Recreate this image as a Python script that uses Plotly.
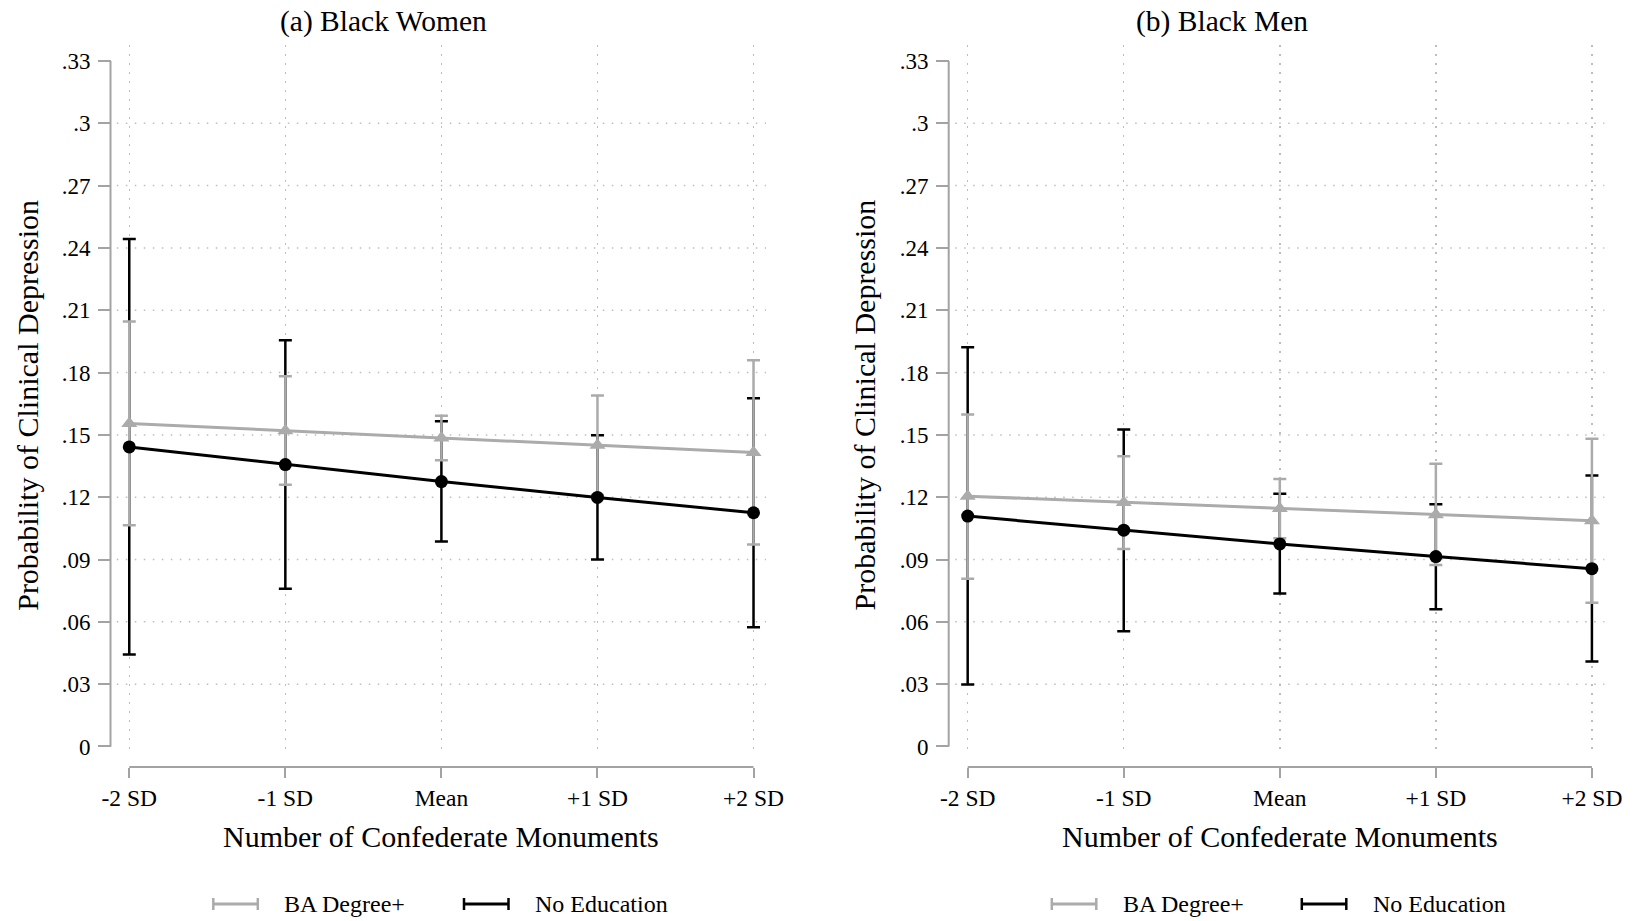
import plotly.graph_objects as go

W, H = 1635, 921

categories = ["-2 SD", "-1 SD", "Mean", "+1 SD", "+2 SD"]

# Panel (a) Black Women
women_ba = [0.1555, 0.1520, 0.1485, 0.1450, 0.1415]
women_ba_hi = [0.2046, 0.1782, 0.1592, 0.1689, 0.1859]
women_ba_lo = [0.1065, 0.1260, 0.1378, 0.1211, 0.0972]
women_none = [0.1442, 0.1357, 0.1275, 0.1199, 0.1125]
women_none_hi = [0.2443, 0.1956, 0.1566, 0.1498, 0.1676]
women_none_lo = [0.0443, 0.0759, 0.0987, 0.0900, 0.0574]

# Panel (b) Black Men
men_ba = [0.1205, 0.1175, 0.1145, 0.1116, 0.1087]
men_ba_hi = [0.1598, 0.1397, 0.1288, 0.1361, 0.1481]
men_ba_lo = [0.0807, 0.0951, 0.1002, 0.0874, 0.0692]
men_none = [0.1109, 0.1041, 0.0975, 0.0914, 0.0856]
men_none_hi = [0.1922, 0.1526, 0.1216, 0.1166, 0.1304]
men_none_lo = [0.0298, 0.0555, 0.0736, 0.0661, 0.0409]

y_tickvals = [0, 0.03, 0.06, 0.09, 0.12, 0.15, 0.18, 0.21, 0.24, 0.27, 0.30, 0.33]
y_ticktext = ["0", ".03", ".06", ".09", ".12", ".15", ".18", ".21", ".24", ".27", ".3", ".33"]
y_gridvals = [0.03, 0.06, 0.09, 0.12, 0.15, 0.18, 0.21, 0.24, 0.27, 0.30]

titles = ["(a) Black Women", "(b) Black Men"]
xtitle = "Number of Confederate Monuments"
ytitle = "Probability of Clinical Depression"
series_names = ["BA Degree+", "No Education"]

GREY = "#ababab"
BLACK = "#000000"
AXGREY = "#a3a3a3"
GRIDC = "#bdbdbd"
FONT = "Liberation Serif"

def px(p):
    return p / W

def py(p):
    return 1 - p / H

fig = go.Figure()

panels = [
    dict(xa="x", ya="y", ba=women_ba, bahi=women_ba_hi, balo=women_ba_lo,
         no=women_none, nohi=women_none_hi, nolo=women_none_lo,
         left=116.8, yaxis_x=110.5, title_x=383.4, xt_x=441.3, yt_x=26.8,
         leg=[213.3, 282.0, 464.0, 533.0]),
    dict(xa="x2", ya="y2", ba=men_ba, bahi=men_ba_hi, balo=men_ba_lo,
         no=men_none, nohi=men_none_hi, nolo=men_none_lo,
         left=955.2, yaxis_x=948.7, title_x=1222.0, xt_x=1279.7, yt_x=864.4,
         leg=[1051.8, 1120.7, 1301.8, 1370.7]),
]

shapes = []
annotations = []
xr = [-0.08, 4.08]
yr = [-0.0046, 0.3377]
plot_w = 649.2
top, bottom = 45.0, 756.0
xaxis_y = 767.0

for i, p in enumerate(panels):
    # black CI
    fig.add_trace(go.Scatter(
        x=categories, y=p["no"], mode="markers", xaxis=p["xa"], yaxis=p["ya"],
        marker=dict(size=1, opacity=0, color=BLACK), showlegend=False, hoverinfo="skip",
        error_y=dict(type="data", symmetric=False,
                     array=[h - v for h, v in zip(p["nohi"], p["no"])],
                     arrayminus=[v - l for v, l in zip(p["no"], p["nolo"])],
                     color=BLACK, thickness=2.5, width=6.5)))
    # grey CI
    fig.add_trace(go.Scatter(
        x=categories, y=p["ba"], mode="markers", xaxis=p["xa"], yaxis=p["ya"],
        marker=dict(size=1, opacity=0, color=GREY), showlegend=False, hoverinfo="skip",
        error_y=dict(type="data", symmetric=False,
                     array=[h - v for h, v in zip(p["bahi"], p["ba"])],
                     arrayminus=[v - l for v, l in zip(p["ba"], p["balo"])],
                     color=GREY, thickness=2.5, width=6.5)))
    # grey line
    fig.add_trace(go.Scatter(
        x=categories, y=p["ba"], mode="lines+markers", xaxis=p["xa"], yaxis=p["ya"],
        name=series_names[0], showlegend=False,
        line=dict(color=GREY, width=3),
        marker=dict(symbol="triangle-up", size=14, color=GREY)))
    # black line
    fig.add_trace(go.Scatter(
        x=categories, y=p["no"], mode="lines+markers", xaxis=p["xa"], yaxis=p["ya"],
        name=series_names[1], showlegend=False,
        line=dict(color=BLACK, width=3),
        marker=dict(symbol="circle", size=13, color=BLACK)))

    sfx = "" if i == 0 else "2"
    # axis lines (Stata style: only across the tick range)
    shapes.append(dict(type="line", xref="paper", yref="y" + sfx,
                       x0=px(p["yaxis_x"]), x1=px(p["yaxis_x"]), y0=0, y1=0.33,
                       line=dict(color=AXGREY, width=2)))
    shapes.append(dict(type="line", xref="x" + sfx, yref="paper",
                       x0=categories[0], x1=categories[-1], y0=py(xaxis_y), y1=py(xaxis_y),
                       line=dict(color=AXGREY, width=2)))
    # horizontal grid
    for g in y_gridvals:
        shapes.append(dict(type="line", xref="x" + sfx + " domain", yref="y" + sfx,
                           x0=0, x1=1, y0=g, y1=g, layer="below",
                           line=dict(color=GRIDC, width=1.5, dash="1.5px,7.5px")))
    # titles
    annotations.append(dict(text=titles[i], x=px(p["title_x"]), y=py(21.5), xref="paper", yref="paper",
                            showarrow=False, xanchor="center", yanchor="middle",
                            font=dict(family=FONT, size=29.5, color=BLACK)))
    annotations.append(dict(text=xtitle, x=px(p["xt_x"]), y=py(836.5), xref="paper", yref="paper",
                            showarrow=False, xanchor="center", yanchor="middle",
                            font=dict(family=FONT, size=30, color=BLACK)))
    annotations.append(dict(text=ytitle, x=px(p["yt_x"]), y=py(405), xref="paper", yref="paper",
                            showarrow=False, xanchor="center", yanchor="middle", textangle=-90,
                            font=dict(family=FONT, size=30, color=BLACK)))
    # legend (drawn manually to mimic range-cap keys)
    ly = 904.0
    for k, col in enumerate([GREY, BLACK]):
        x0 = p["leg"][2 * k]
        x1 = x0 + 44.5
        shapes.append(dict(type="line", xref="paper", yref="paper", x0=px(x0), x1=px(x1),
                           y0=py(ly), y1=py(ly), line=dict(color=col, width=3)))
        for xx in (x0, x1):
            shapes.append(dict(type="line", xref="paper", yref="paper", x0=px(xx), x1=px(xx),
                               y0=py(ly - 6), y1=py(ly + 6), line=dict(color=col, width=2.5)))
        annotations.append(dict(text=series_names[k], x=px(p["leg"][2 * k + 1]), y=py(ly),
                                xref="paper", yref="paper", showarrow=False,
                                xanchor="left", yanchor="middle",
                                font=dict(family=FONT, size=24, color=BLACK)))

def xaxis_cfg(left):
    return dict(domain=[px(left), px(left + plot_w)], range=xr, type="category",
                anchor="free", position=py(xaxis_y), showline=False, zeroline=False,
                ticks="outside", ticklen=10, tickwidth=2, tickcolor=AXGREY,
                showgrid=True, gridcolor=GRIDC, gridwidth=1.5, griddash="1.5px,7.5px",
                tickfont=dict(family=FONT, size=23.5, color=BLACK), fixedrange=True)

def yaxis_cfg(pos):
    return dict(domain=[py(bottom), py(top)], range=yr, anchor="free", position=pos,
                showline=False, zeroline=False, showgrid=False,
                tickmode="array", tickvals=y_tickvals, ticktext=y_ticktext,
                ticks="outside", ticklen=12.5, tickwidth=2, tickcolor=AXGREY,
                ticklabelstandoff=3,
                tickfont=dict(family=FONT, size=23, color=BLACK), fixedrange=True)

fig.update_layout(
    template="none",
    width=W, height=H,
    margin=dict(l=0, r=0, t=0, b=0),
    paper_bgcolor="white", plot_bgcolor="white",
    showlegend=False,
    hovermode=False,
    xaxis=xaxis_cfg(panels[0]["left"]),
    xaxis2=xaxis_cfg(panels[1]["left"]),
    yaxis=yaxis_cfg(px(panels[0]["yaxis_x"])),
    yaxis2=yaxis_cfg(px(panels[1]["yaxis_x"])),
    shapes=shapes,
    annotations=annotations,
)

# remove the browser's default 8px body margin so the figure fills the window exactly
fig.write_html("out.html",
               config={"displayModeBar": False, "staticPlot": True},
               post_script="document.body.style.margin='0';document.body.style.padding='0';"
                           "document.body.style.overflow='hidden';")
